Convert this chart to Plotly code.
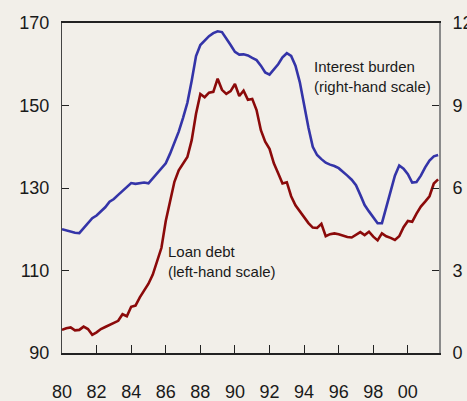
import plotly.graph_objects as go

# quarterly observations, 1980 Q1 to 2001 Q4
quarters = [1980 + i * 0.25 for i in range(88)]

# loan debt, left-hand scale
loan_debt = [
    95.6, 96.0, 96.2, 95.5, 95.6, 96.4, 95.8, 94.4,
    95.0, 95.8, 96.3, 96.8, 97.2, 97.8, 99.4, 98.9,
    101.2, 101.5, 103.5, 105.0, 106.8, 109.0, 112.5, 115.5,
    122.0, 126.8, 131.5, 134.3, 135.8, 137.5, 141.6, 148.0,
    152.8, 152.0, 153.1, 153.3, 156.5, 153.8, 152.8, 153.5,
    155.2, 152.3, 153.6, 151.4, 151.6, 148.9, 144.0, 141.2,
    139.5, 136.0, 133.6, 131.1, 131.4, 128.0, 125.8, 124.3,
    122.8, 121.5, 120.4, 120.3, 121.3, 118.3, 118.8, 119.0,
    118.8, 118.5, 118.1, 118.0, 118.6, 119.3, 118.6, 119.4,
    118.2, 117.3, 119.0, 118.3, 117.9, 117.4, 118.3, 120.5,
    122.0, 121.8, 123.8, 125.5, 126.7, 128.0, 131.1, 132.1,
]

# interest burden, right-hand scale
interest_burden = [
    4.5, 4.45, 4.4, 4.37, 4.36, 4.55, 4.75, 4.9,
    5.0, 5.15, 5.3, 5.5, 5.6, 5.75, 5.9, 6.05,
    6.18, 6.15, 6.17, 6.2, 6.17, 6.35, 6.5, 6.7,
    6.9, 7.25, 7.65, 8.05, 8.55, 9.1, 9.9, 10.8,
    11.2, 11.35, 11.52, 11.63, 11.7, 11.67, 11.45, 11.2,
    10.95, 10.85, 10.86, 10.82, 10.73, 10.65, 10.45, 10.2,
    10.12, 10.3, 10.5, 10.75, 10.9, 10.8, 10.45, 9.85,
    9.0, 8.2, 7.5, 7.2, 7.05, 6.92, 6.85, 6.8,
    6.72, 6.6, 6.45, 6.3, 6.1, 5.75, 5.38, 5.15,
    4.95, 4.72, 4.72, 5.3, 5.85, 6.45, 6.82, 6.7,
    6.5, 6.2, 6.22, 6.45, 6.75, 7.0, 7.15, 7.2,
]

x_ticks = [1980, 1982, 1984, 1986, 1988, 1990, 1992, 1994, 1996, 1998, 2000]
x_labels = ["80", "82", "84", "86", "88", "90", "92", "94", "96", "98", "00"]
left_ticks = [90, 110, 130, 150, 170]
right_ticks = [0, 3, 6, 9, 12]

bg = "#f2efe9"
tick_font = dict(family="Liberation Sans Narrow, Arial Narrow, Liberation Sans, Arial, sans-serif",
                 size=18, color="#1a1a1a")
note_font = dict(family="Liberation Sans Narrow, Arial Narrow, Liberation Sans, Arial, sans-serif",
                 size=15, color="#1a1a1a")

fig = go.Figure()
fig.add_trace(go.Scatter(x=quarters, y=loan_debt, mode="lines",
                         line=dict(color="#8b0a0a", width=2.6), yaxis="y"))
fig.add_trace(go.Scatter(x=quarters, y=interest_burden, mode="lines",
                         line=dict(color="#3434a8", width=2.6), yaxis="y2"))

fig.update_layout(
    width=467, height=401,
    margin=dict(l=62, r=28, t=23, b=48),
    paper_bgcolor=bg, plot_bgcolor=bg,
    showlegend=False,
    xaxis=dict(range=[1980, 2001.8], tickvals=x_ticks, ticktext=x_labels,
               ticks="inside", ticklen=8, tickcolor="#222", tickfont=tick_font,
               ticklabelstandoff=22, automargin=False,
               showline=True, linecolor="#222", linewidth=1.5, mirror=True,
               showgrid=False, zeroline=False),
    yaxis=dict(range=[90, 170], tickvals=left_ticks, ticks="inside", ticklen=7,
               tickcolor="#222", tickfont=tick_font, ticklabelstandoff=8,
               automargin=False,
               showline=True, linecolor="#444", linewidth=1,
               showgrid=False, zeroline=False),
    yaxis2=dict(range=[0, 12], tickvals=right_ticks, ticks="inside", ticklen=7,
                tickcolor="#222", tickfont=tick_font, ticklabelstandoff=8,
                automargin=False, overlaying="y", side="right",
                showline=True, linecolor="#8a8a8a", linewidth=2,
                showgrid=False, zeroline=False),
)

fig.add_annotation(xref="paper", yref="paper", x=0.662, y=0.9,
                   xanchor="left", yanchor="top", align="left", showarrow=False,
                   text="Interest burden<br>(right-hand scale)", font=note_font)
fig.add_annotation(xref="paper", yref="paper", x=0.275, y=0.34,
                   xanchor="left", yanchor="top", align="left", showarrow=False,
                   text="Loan debt<br>(left-hand scale)", font=note_font)

# the page's default body margin would push the 467x401 figure off the window
fig.write_html("out.html", config={"displayModeBar": False},
               post_script="document.body.style.margin='0';")
